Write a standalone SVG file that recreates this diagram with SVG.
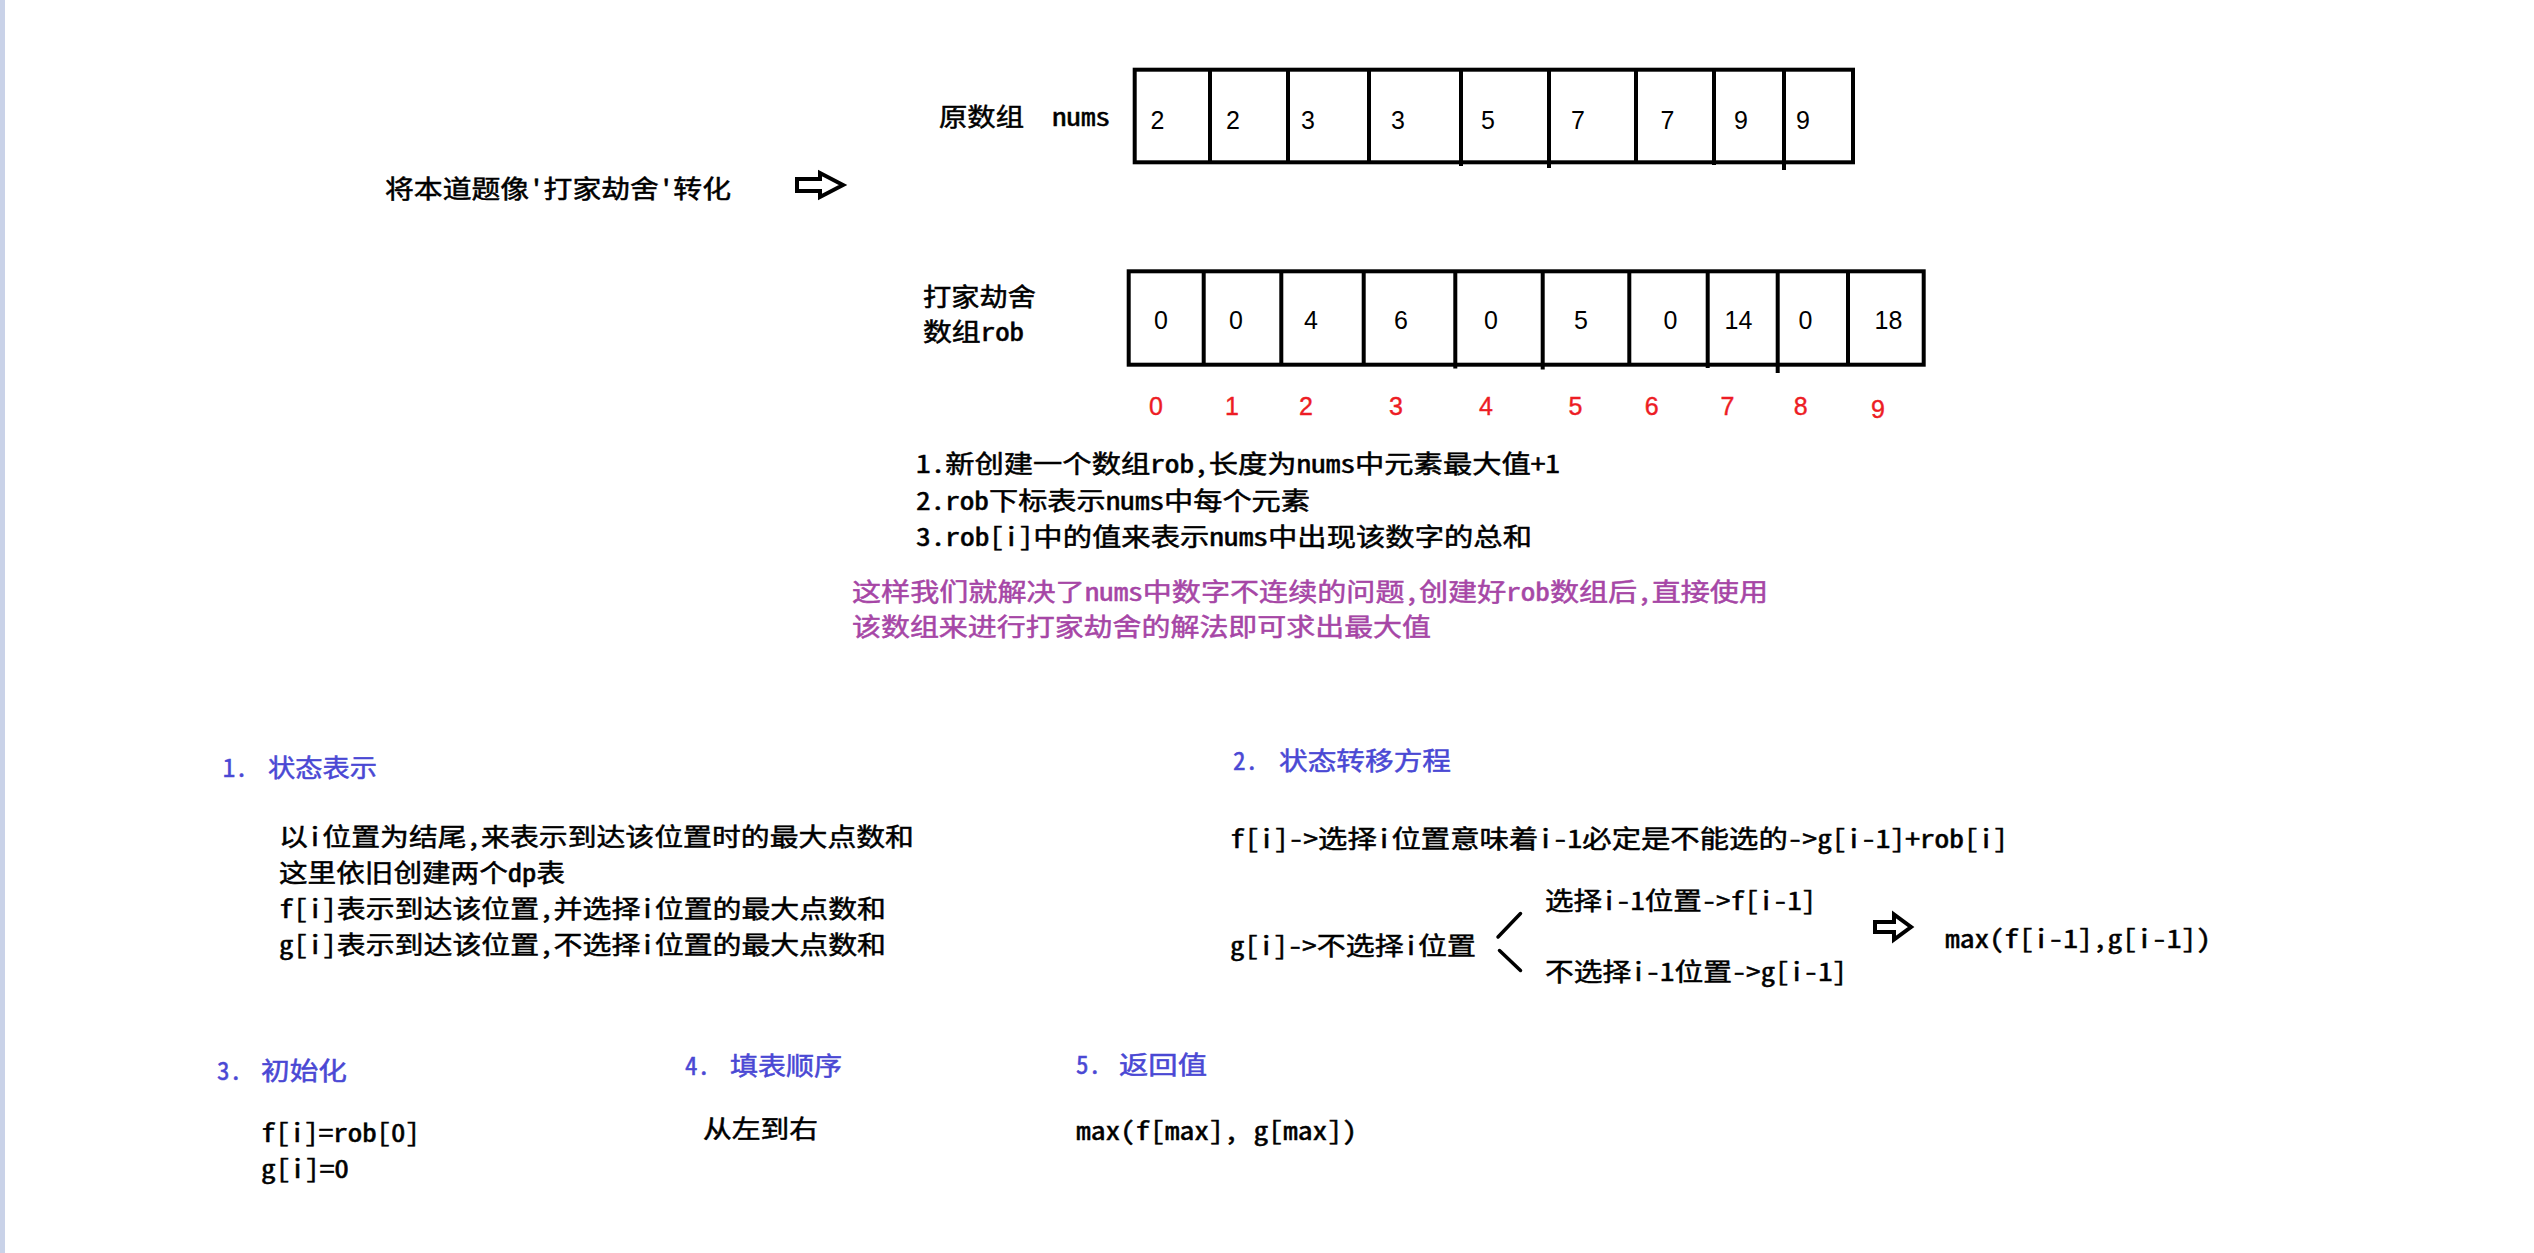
<svg xmlns="http://www.w3.org/2000/svg" width="2534" height="1253" viewBox="0 0 2534 1253">
<style>
.t{font-family:'Noto Sans Mono CJK SC','Noto Sans CJK SC',sans-serif;font-size:25px;font-weight:500;fill:#000;stroke:#000;stroke-width:0.5}
.h{fill:#4a48d4;stroke:#4a48d4}
.p{fill:#a646a6;stroke:#a646a6}
.d{font-family:'Liberation Sans',Arial,sans-serif;font-size:25px;text-anchor:middle;fill:#000}
.r{fill:#ed1c24;stroke:#ed1c24;stroke-width:0.4}
.box{fill:none;stroke:#000;stroke-width:4}
.ln{stroke:#000;stroke-width:4;fill:none}
.sl{stroke:#000;stroke-width:3.5;fill:none;stroke-linecap:round}
</style>
<rect width="2534" height="1253" fill="#fff"/>
<rect x="0" y="0" width="5" height="1253" fill="#c9d2e8"/>

<g id="intro-title">
<text class="t" x="385" y="198" textLength="346" lengthAdjust="spacingAndGlyphs">将本道题像'打家劫舍'转化</text>
</g>

<g id="connectors">
<path class="ln" d="M797,179 H820 V173 L843,185 L820,197 V191 H797 Z"/>
<path class="ln" d="M1875,922 H1894 V914.5 L1911,927 L1894,939.5 V932 H1875 Z"/>
<line class="sl" x1="1520.5" y1="913.5" x2="1498" y2="937"/>
<line class="sl" x1="1499.5" y1="950.5" x2="1520.5" y2="970.5"/>
</g>

<g id="nums-label">
<text class="t" x="939" y="126" textLength="85" lengthAdjust="spacingAndGlyphs">原数组</text>
<text class="t" x="1052" y="126" textLength="58" lengthAdjust="spacingAndGlyphs">nums</text>
</g>

<g id="nums-array">
<rect class="box" x="1134.7" y="69.7" width="718.3" height="92.6"/>
<path class="ln" d="M1210,69.7V162.3 M1288,69.7V162.3 M1369,69.7V162.3 M1461,69.7V166 M1549,69.7V168 M1636,69.7V162.3 M1714,69.7V165 M1784,69.7V170"/>
<text class="d" x="1157.5" y="129">2</text>
<text class="d" x="1233" y="129">2</text>
<text class="d" x="1308" y="129">3</text>
<text class="d" x="1398" y="129">3</text>
<text class="d" x="1488" y="129">5</text>
<text class="d" x="1578" y="129">7</text>
<text class="d" x="1667.5" y="129">7</text>
<text class="d" x="1741" y="129">9</text>
<text class="d" x="1803" y="129">9</text>
</g>

<g id="rob-label">
<text class="t" x="923" y="306" textLength="113" lengthAdjust="spacingAndGlyphs">打家劫舍</text>
<text class="t" x="923" y="341" textLength="101" lengthAdjust="spacingAndGlyphs">数组rob</text>
</g>

<g id="rob-array">
<rect class="box" x="1128.7" y="271.3" width="795" height="93.4"/>
<path class="ln" d="M1203.7,271.3V364.7 M1281.3,271.3V364.7 M1363.7,271.3V364.7 M1455.3,271.3V368.5 M1542.7,271.3V369.5 M1629.3,271.3V364.7 M1707.7,271.3V368 M1777.7,271.3V373 M1848,271.3V364.7"/>
<text class="d" x="1161" y="329">0</text>
<text class="d" x="1236" y="329">0</text>
<text class="d" x="1311" y="329">4</text>
<text class="d" x="1401" y="329">6</text>
<text class="d" x="1491" y="329">0</text>
<text class="d" x="1581" y="329">5</text>
<text class="d" x="1670.5" y="329">0</text>
<text class="d" x="1738.5" y="329">14</text>
<text class="d" x="1805.5" y="329">0</text>
<text class="d" x="1888.5" y="329">18</text>
</g>

<g id="rob-indices">
<text class="d r" x="1156" y="415">0</text>
<text class="d r" x="1232" y="415">1</text>
<text class="d r" x="1306" y="415">2</text>
<text class="d r" x="1396" y="415">3</text>
<text class="d r" x="1486" y="415">4</text>
<text class="d r" x="1575.5" y="415">5</text>
<text class="d r" x="1651.7" y="415">6</text>
<text class="d r" x="1727.5" y="415">7</text>
<text class="d r" x="1800.7" y="415">8</text>
<text class="d r" x="1878" y="418">9</text>
</g>

<g id="rob-notes">
<text class="t" x="916" y="473" textLength="644" lengthAdjust="spacingAndGlyphs">1.新创建一个数组rob,长度为nums中元素最大值+1</text>
<text class="t" x="916" y="510" textLength="394" lengthAdjust="spacingAndGlyphs">2.rob下标表示nums中每个元素</text>
<text class="t" x="916" y="546" textLength="616" lengthAdjust="spacingAndGlyphs">3.rob[i]中的值来表示nums中出现该数字的总和</text>
</g>

<g id="conclusion">
<text class="t p" x="852" y="601" textLength="916" lengthAdjust="spacingAndGlyphs">这样我们就解决了nums中数字不连续的问题,创建好rob数组后,直接使用</text>
<text class="t p" x="852" y="636" textLength="579" lengthAdjust="spacingAndGlyphs">该数组来进行打家劫舍的解法即可求出最大值</text>
</g>

<g id="step1">
<text class="t h" x="222.7" y="777">1.</text>
<text class="t h" x="268" y="777" textLength="109" lengthAdjust="spacingAndGlyphs">状态表示</text>
<text class="t" x="279" y="846" textLength="635" lengthAdjust="spacingAndGlyphs">以i位置为结尾,来表示到达该位置时的最大点数和</text>
<text class="t" x="279" y="882" textLength="286" lengthAdjust="spacingAndGlyphs">这里依旧创建两个dp表</text>
<text class="t" x="279" y="918" textLength="607" lengthAdjust="spacingAndGlyphs">f[i]表示到达该位置,并选择i位置的最大点数和</text>
<text class="t" x="279" y="954" textLength="607" lengthAdjust="spacingAndGlyphs">g[i]表示到达该位置,不选择i位置的最大点数和</text>
</g>

<g id="step2">
<text class="t h" x="1233" y="770">2.</text>
<text class="t h" x="1279" y="770" textLength="172" lengthAdjust="spacingAndGlyphs">状态转移方程</text>
<text class="t" x="1230" y="848" textLength="778" lengthAdjust="spacingAndGlyphs">f[i]-&gt;选择i位置意味着i-1必定是不能选的-&gt;g[i-1]+rob[i]</text>
<text class="t" x="1230" y="955" textLength="246" lengthAdjust="spacingAndGlyphs">g[i]-&gt;不选择i位置</text>
<text class="t" x="1545" y="910" textLength="271" lengthAdjust="spacingAndGlyphs">选择i-1位置-&gt;f[i-1]</text>
<text class="t" x="1545" y="981" textLength="302" lengthAdjust="spacingAndGlyphs">不选择i-1位置-&gt;g[i-1]</text>
<text class="t" x="1945" y="948" textLength="266" lengthAdjust="spacingAndGlyphs">max(f[i-1],g[i-1])</text>
</g>

<g id="step3">
<text class="t h" x="217" y="1080">3.</text>
<text class="t h" x="261" y="1080" textLength="86" lengthAdjust="spacingAndGlyphs">初始化</text>
<text class="t" x="261" y="1142" textLength="159" lengthAdjust="spacingAndGlyphs">f[i]=rob[0]</text>
<text class="t" x="261" y="1178" textLength="88" lengthAdjust="spacingAndGlyphs">g[i]=0</text>
</g>

<g id="step4">
<text class="t h" x="685" y="1075">4.</text>
<text class="t h" x="730" y="1075" textLength="112" lengthAdjust="spacingAndGlyphs">填表顺序</text>
<text class="t" x="703" y="1138" textLength="115" lengthAdjust="spacingAndGlyphs">从左到右</text>
</g>

<g id="step5">
<text class="t h" x="1076" y="1074">5.</text>
<text class="t h" x="1119" y="1074" textLength="88" lengthAdjust="spacingAndGlyphs">返回值</text>
<text class="t" x="1076" y="1140" textLength="281" lengthAdjust="spacingAndGlyphs">max(f[max], g[max])</text>
</g>
</svg>
